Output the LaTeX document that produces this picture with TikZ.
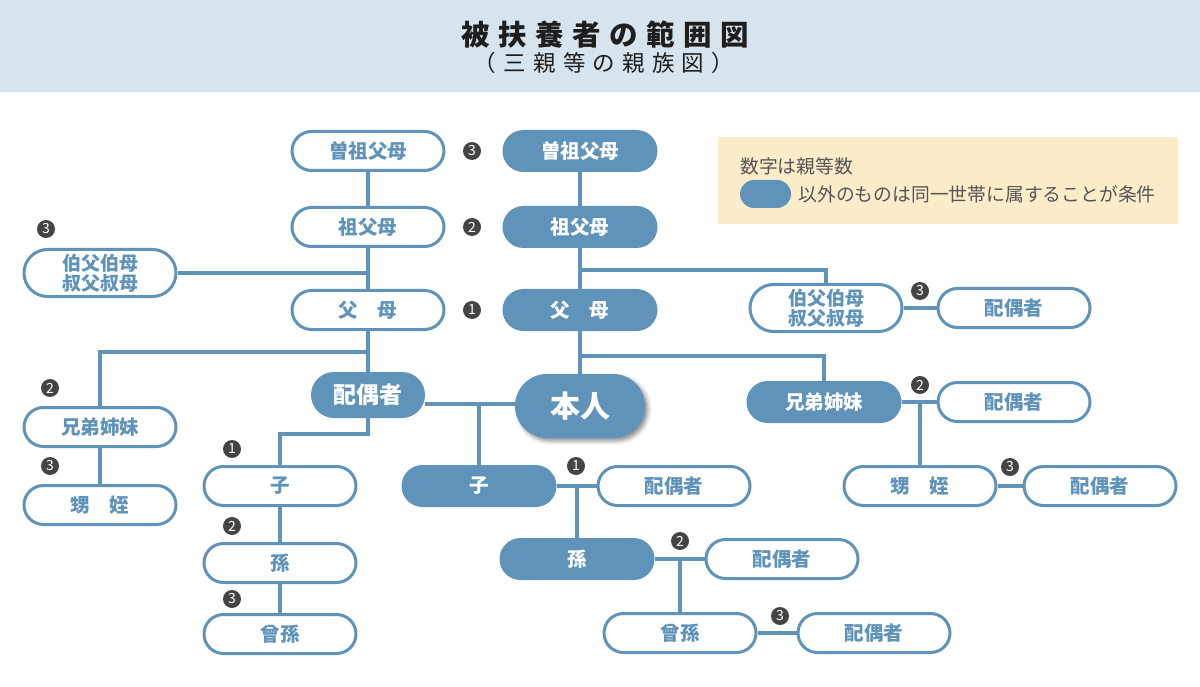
\documentclass[tikz,border=0pt]{standalone}
\usepackage{fontspec}
\setmainfont{Noto Sans CJK JP}
\newfontfamily\titlefont[LetterSpace=30]{Noto Sans CJK JP}
\newfontfamily\subfont[LetterSpace=32]{Noto Sans CJK JP}
\usepackage{xcolor}
\usetikzlibrary{positioning}
\usetikzlibrary{shadows.blur}
\definecolor{famblue}{RGB}{95,147,186}
\definecolor{headbg}{RGB}{215,228,238}
\definecolor{notebg}{RGB}{253,236,201}
\definecolor{numgray}{RGB}{68,68,68}
\definecolor{notegray}{RGB}{85,85,85}
\definecolor{titlegray}{RGB}{30,30,30}

\begin{document}
\begin{tikzpicture}[x=1pt,y=-1pt,
  link/.style={draw=famblue,line width=3.5pt},
  fillbox/.style={rectangle,rounded corners=21pt,fill=famblue,text=white,minimum width=155pt,minimum height=42pt,inner sep=0pt,font=\bfseries\fontsize{19.5}{21}\selectfont},
  linebox/.style={rectangle,rounded corners=19.5pt,draw=famblue,line width=3pt,fill=white,text=famblue,minimum width=152pt,minimum height=39pt,inner sep=0pt,font=\bfseries\fontsize{19.5}{21}\selectfont},
  num/.style={circle,fill=numgray,text=white,inner sep=0pt,minimum size=18pt,font=\fontsize{14}{14}\selectfont},
  notetext/.style={text=notegray,inner sep=0pt,font=\fontsize{18.8}{20}\selectfont}]
\useasboundingbox (0,0) rectangle (1200,687);
\fill[headbg] (0,0) rectangle (1200,92);
\node[text=titlegray,font=\titlefont\bfseries\fontsize{28.5}{30}\selectfont] (title) at (605,35) {被扶養者の範囲図};
\node[text=titlegray,font=\subfont\fontsize{22.5}{24}\selectfont] (subtitle) at (604,63) {（三親等の親族図）};
\fill[notebg] (718,137) rectangle (1178,224);
\node[notetext,anchor=west] (note1) at (740,166) {数字は親等数};
\node[fillbox,minimum width=51pt,minimum height=28pt,rounded corners=14pt] (notekey) at (765.5,194) {};
\node[notetext,right=7pt of notekey] (note2) {以外のものは同一世帯に属することが条件};

\node[linebox] (pgg) at (368,151) {曽祖父母};
\node[linebox] (pgp) at (368,227) {祖父母};
\node[linebox] (ppa) at (368,310) {父\quad 母};
\node[linebox,minimum height=47pt,rounded corners=23.5pt,align=center,font=\bfseries\fontsize{19}{20}\selectfont] (poj) at (100,273) {伯父伯母\\叔父叔母};
\node[linebox] (psib) at (100,427) {兄弟姉妹};
\node[linebox] (pnep) at (100,505) {甥\quad 姪};
\node[fillbox,minimum width=114pt,minimum height=46pt,rounded corners=23pt,font=\bfseries\fontsize{23}{24}\selectfont] (sp) at (368,395) {配偶者};
\node[linebox] (pch) at (280,486) {子};
\node[linebox] (pgc) at (280,563) {孫};
\node[linebox] (pggc) at (280,634) {曾孫};

\node[fillbox] (gg) at (580,151) {曽祖父母};
\node[fillbox] (gp) at (580,227) {祖父母};
\node[fillbox] (pa) at (580,310) {父\quad 母};
\node[fillbox,minimum width=130pt,minimum height=64pt,rounded corners=32pt,font=\bfseries\fontsize{30}{31}\selectfont,blur shadow={shadow xshift=3pt,shadow yshift=-3pt,shadow blur radius=4pt,shadow opacity=45}] (me) at (580,406) {本人};
\node[linebox,minimum height=47pt,rounded corners=23.5pt,align=center,font=\bfseries\fontsize{19}{20}\selectfont] (oj) at (826,308) {伯父伯母\\叔父叔母};
\node[linebox] (ojsp) at (1014,308) {配偶者};
\node[fillbox] (sib) at (824,402) {兄弟姉妹};
\node[linebox] (sibsp) at (1014,402) {配偶者};
\node[linebox] (nep) at (920,486) {甥\quad 姪};
\node[linebox] (nepsp) at (1100,486) {配偶者};
\node[fillbox] (ch) at (479,486) {子};
\node[linebox] (chsp) at (674,486) {配偶者};
\node[fillbox] (gc) at (577,559) {孫};
\node[linebox] (gcsp) at (782,559) {配偶者};
\node[linebox] (ggc) at (680,633) {曾孫};
\node[linebox] (ggcsp) at (874,633) {配偶者};

\coordinate (jl1) at (368,273);
\coordinate (jl2) at (368,352);
\coordinate (jl3) at (368,434);
\coordinate (jr1) at (580,270);
\coordinate (jr2) at (580,356);
\coordinate (jm) at (479,404);
\coordinate (jc) at (577,486);
\coordinate (jg) at (680,559);
\coordinate (js) at (920,402);

\draw[link] (pgg) -- (pgp);
\draw[link] (pgp) -- (ppa);
\draw[link] (ppa) -- (sp);
\draw[link] (poj) -- (jl1);
\draw[link] (jl2) -| (psib);
\draw[link] (psib) -- (pnep);
\draw[link] (sp) -- (jl3) -| (pch);
\draw[link] (pch) -- (pgc);
\draw[link] (pgc) -- (pggc);
\draw[link] (gg) -- (gp);
\draw[link] (gp) -- (pa);
\draw[link] (pa) -- (me);
\draw[link] (jr1) -| (oj);
\draw[link] (oj) -- (ojsp);
\draw[link] (jr2) -| (sib);
\draw[link] (sp.east |- jm) -- (me.west |- jm);
\draw[link] (jm) -- (ch);
\draw[link] (ch) -- (chsp);
\draw[link] (jc) -- (gc);
\draw[link] (gc) -- (gcsp);
\draw[link] (jg) -- (ggc);
\draw[link] (ggc) -- (ggcsp);
\draw[link] (sib) -- (sibsp);
\draw[link] (js) -- (nep);
\draw[link] (nep) -- (nepsp);

\node[num] (n3a) at (472,151) {3};
\node[num] (n2a) at (472,227) {2};
\node[num] (n1a) at (472,310) {1};
\node[num] (n3b) at (46,229) {3};
\node[num] (n3c) at (920,291) {3};
\node[num] (n2b) at (50,388) {2};
\node[num] (n3d) at (50,466) {3};
\node[num] (n1b) at (232,449) {1};
\node[num] (n2c) at (232,526) {2};
\node[num] (n3e) at (232,599) {3};
\node[num] (n1c) at (576,466) {1};
\node[num] (n2d) at (920,385) {2};
\node[num] (n3f) at (1010,467) {3};
\node[num] (n2e) at (680,541) {2};
\node[num] (n3g) at (780,616) {3};
\end{tikzpicture}
\end{document}
